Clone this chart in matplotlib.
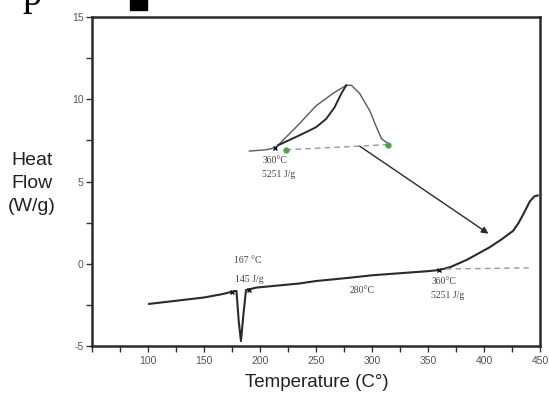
import matplotlib
matplotlib.use('Agg')
import matplotlib.pyplot as plt
from matplotlib.patches import Rectangle
from matplotlib.ticker import MultipleLocator

plt.rcParams['axes.unicode_minus'] = False

# main DSC trace (temperature in C, heat flow in W/g)
main_t = [101, 125, 150, 166, 175, 179, 181, 183, 185, 187.5, 196.5, 235, 250, 280, 300,
          330, 350, 360, 370, 385, 405, 415, 426, 431, 435, 441, 445, 448]
main_q = [-2.44, -2.25, -2.05, -1.85, -1.7, -1.65, -3.5, -4.7, -3.2, -1.6, -1.45, -1.2, -1.05,
          -0.85, -0.7, -0.55, -0.45, -0.38, -0.2, 0.25, 1.0, 1.45, 2.0, 2.5, 3.0, 3.8, 4.1, 4.15]

# baseline extrapolation after the 360 C onset
base_t = [366, 440]
base_q = [-0.32, -0.25]

# zoomed inset of the exotherm
inset_t = [190.5, 205.5, 213, 216, 235, 250, 265, 277, 281.6, 289, 298, 304, 308.5, 314.5]
inset_q = [6.85, 6.93, 7.05, 7.2, 8.5, 9.6, 10.35, 10.85, 10.85, 10.35, 9.3, 8.3, 7.6, 7.3]
inset_lo_t = [216, 235, 250, 259, 266.5, 272.6, 277]
inset_lo_q = [7.2, 7.8, 8.3, 8.8, 9.5, 10.35, 10.85]
inset_base_t = [223, 289, 314.5]
inset_base_q = [6.93, 7.15, 7.25]

arrow_from = (289, 7.15)
arrow_to = (404, 1.83)

fig = plt.figure(figsize=(5.49, 3.94), dpi=100)
ax = fig.add_axes([0.1676, 0.1218, 0.816, 0.835])

ax.plot(main_t, main_q, color='#2a2a2a', lw=1.5)
ax.plot(base_t, base_q, color='#8a9db0', lw=1.0, ls=(0, (4, 3)))
ax.plot([175, 190, 360], [-1.7, -1.6, -0.38], ls='none', marker='x', ms=3,
        mew=1.0, color='#111111')

ax.plot(inset_t, inset_q, color='#5a5a5a', lw=1.0)
ax.plot(inset_lo_t, inset_lo_q, color='#2a2a2a', lw=1.4)
ax.plot(inset_base_t, inset_base_q, color='#8aa0a0', lw=1.0, ls=(0, (4, 3)))
ax.plot([inset_base_t[0], inset_base_t[-1]], [inset_base_q[0], inset_base_q[-1]],
        ls='none', marker='o', ms=3.5, color='#46a646')
ax.plot([213], [7.05], ls='none', marker='x', ms=3, mew=1.0, color='#111111')

ax.annotate('', xy=arrow_to, xytext=arrow_from,
            arrowprops=dict(arrowstyle='-|>', color='#2a2a2a', lw=1.0,
                            mutation_scale=10, shrinkA=0, shrinkB=0))

tk = dict(family='Liberation Serif', fontsize=7, color='#444444')
ax.text(177, 0.05, '167 °C', **tk)
ax.text(178, -1.1, '145 J/g', **tk)
ax.text(280, -1.8, '280°C', **tk)
ax.text(353, -1.25, '360°C', **tk)
ax.text(353, -2.1, '5251 J/g', **tk)
ax.text(202, 6.1, '360°C', **tk)
ax.text(202, 5.25, '5251 J/g', **tk)

ax.set_xlim(50, 450)
ax.set_ylim(-5, 15)
ax.xaxis.set_major_locator(MultipleLocator(50))
ax.xaxis.set_minor_locator(MultipleLocator(25))
ax.yaxis.set_major_locator(MultipleLocator(5))
ax.yaxis.set_minor_locator(MultipleLocator(2.5))
ax.set_xticks([100, 150, 200, 250, 300, 350, 400, 450])
ax.tick_params(which='both', direction='out', length=4, width=1.0, color='#333333',
               labelsize=7.5, labelcolor='#555555', top=False, right=False)
ax.tick_params(axis='y', pad=2)
for lab in ax.get_xticklabels() + ax.get_yticklabels():
    lab.set_family('Liberation Sans')
for s in ax.spines.values():
    s.set_linewidth(1.8)
    s.set_color('#2a2a2a')

fig.text(0.058, 0.535, 'Heat\nFlow\n(W/g)', ha='center', va='center',
         family='Liberation Sans', fontsize=14, linespacing=1.45, color='#222222')
fig.text(0.577, 0.028, 'Temperature (C°)', ha='center', va='center',
         family='Liberation Sans', fontsize=13.5, color='#222222')

# scan artifacts at the top edge
fig.patches.append(Rectangle((130 / 549, 1 - 10 / 394), 17 / 549, 10 / 394,
                             transform=fig.transFigure, color='black'))
fig.text(0.058, 1 - 5 / 394, 'p', ha='center', va='baseline',
         family='Liberation Serif', fontsize=28, color='black')

fig.savefig('out.png', dpi=100)
